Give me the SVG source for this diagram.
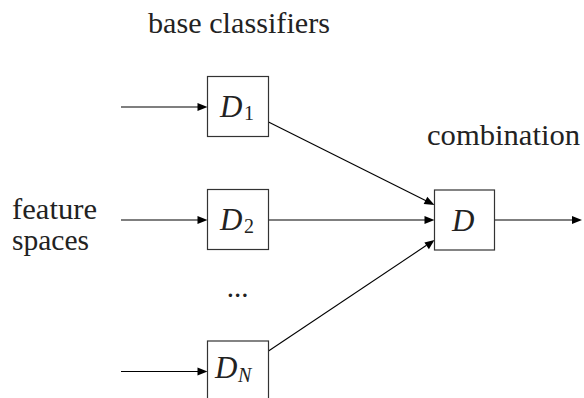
<svg xmlns="http://www.w3.org/2000/svg" width="584" height="398" viewBox="0 0 584 398">
<rect width="584" height="398" fill="#fff"/>
<g id="labels">
<text x="148" y="33" font-family="Liberation Serif, serif" font-size="29" fill="#222" textLength="182" lengthAdjust="spacingAndGlyphs">base classifiers</text>
<text x="427" y="145" font-family="Liberation Serif, serif" font-size="29" fill="#222" textLength="153" lengthAdjust="spacingAndGlyphs">combination</text>
<text x="12" y="219" font-family="Liberation Serif, serif" font-size="29" fill="#222" textLength="85" lengthAdjust="spacingAndGlyphs">feature</text>
<text x="12" y="250" font-family="Liberation Serif, serif" font-size="29" fill="#222" textLength="77" lengthAdjust="spacingAndGlyphs">spaces</text>
<text x="237.5" y="297" font-family="Liberation Serif, serif" font-size="29" fill="#222" text-anchor="middle">...</text>
</g>
<g id="connectors" stroke="#000" stroke-width="1.1">
<line x1="121" y1="107" x2="198" y2="107"/>
<path d="M207.5,107 L197.5,103 L197.5,111 z" fill="#000" stroke="none"/>
<line x1="121" y1="220" x2="198" y2="220"/>
<path d="M207.5,220 L197.5,216 L197.5,224 z" fill="#000" stroke="none"/>
<line x1="121" y1="371.5" x2="198" y2="371.5"/>
<path d="M207.5,371.5 L197.5,367.5 L197.5,375.5 z" fill="#000" stroke="none"/>
<line x1="268.5" y1="122" x2="426" y2="200.7"/>
<path d="M434.5,205 L423.7,203.9 L427.3,196.7 z" fill="#000" stroke="none"/>
<line x1="268.5" y1="220" x2="425" y2="220"/>
<path d="M434.5,220 L424.5,216 L424.5,224 z" fill="#000" stroke="none"/>
<line x1="268.5" y1="351" x2="426.5" y2="245.3"/>
<path d="M434.5,240 L428.9,249.3 L424.4,242.6 z" fill="#000" stroke="none"/>
<line x1="494.5" y1="220" x2="573" y2="220"/>
<path d="M582,220 L572,216 L572,224 z" fill="#000" stroke="none"/>
</g>
<g id="D1">
<rect x="207.5" y="76.5" width="61" height="60" fill="#fff" stroke="#333" stroke-width="1.2"/>
<text x="220" y="116.5" font-family="Liberation Serif, serif" font-style="italic" font-size="31" fill="#222">D</text>
<text x="244" y="120" font-family="Liberation Serif, serif" font-size="20" fill="#222">1</text>
</g>
<g id="D2">
<rect x="207.5" y="189.5" width="61" height="60" fill="#fff" stroke="#333" stroke-width="1.2"/>
<text x="220" y="229.5" font-family="Liberation Serif, serif" font-style="italic" font-size="31" fill="#222">D</text>
<text x="244" y="233" font-family="Liberation Serif, serif" font-size="20" fill="#222">2</text>
</g>
<g id="DN">
<rect x="207.5" y="341" width="61" height="70" fill="#fff" stroke="#333" stroke-width="1.2"/>
<text x="215" y="378" font-family="Liberation Serif, serif" font-style="italic" font-size="31" fill="#222">D</text>
<text x="238" y="382" font-family="Liberation Serif, serif" font-style="italic" font-size="20" fill="#222">N</text>
</g>
<g id="D">
<rect x="434.5" y="190" width="60" height="60" fill="#fff" stroke="#333" stroke-width="1.2"/>
<text x="452" y="231" font-family="Liberation Serif, serif" font-style="italic" font-size="31" fill="#222">D</text>
</g>
</svg>
